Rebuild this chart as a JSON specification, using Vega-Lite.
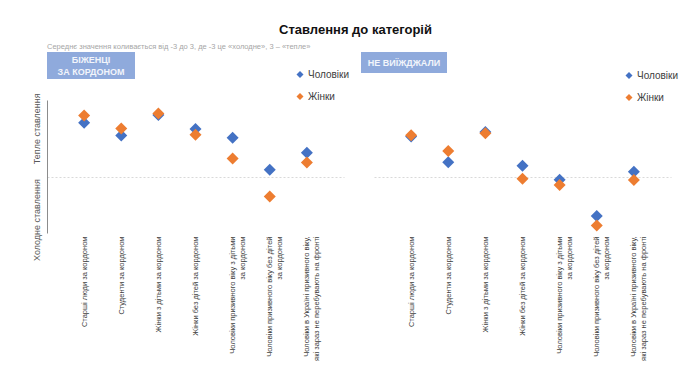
{
  "$schema": "https://vega.github.io/schema/vega-lite/v6.json",
  "padding": {"left": 31, "top": 23, "right": 5, "bottom": 0},
  "background": "white",
  "config": {
    "font": "Liberation Sans Narrow, Liberation Sans, sans-serif",
    "view": {"stroke": null}
  },
  "title": {"text": "Ставлення до категорій", "fontSize": 13, "fontWeight": "bold", "color": "#111111", "anchor": "middle", "offset": 6},
  "datasets": {
    "refugees": [
      {"category": "Старші люди за кордоном", "sex": "Чоловіки", "value": 1.94},
      {"category": "Студенти за кордоном", "sex": "Чоловіки", "value": 1.48},
      {"category": "Жінки з дітьми за кордоном", "sex": "Чоловіки", "value": 2.21},
      {"category": "Жінки без дітей за кордоном", "sex": "Чоловіки", "value": 1.71},
      {"category": "Чоловіки призивного віку з дітьми|за кордоном", "sex": "Чоловіки", "value": 1.40},
      {"category": "Чоловіки призивного віку без дітей|за кордоном", "sex": "Чоловіки", "value": 0.26},
      {"category": "Чоловіки в Україні призивного віку,|які зараз не перебувають на фронті", "sex": "Чоловіки", "value": 0.87},
      {"category": "Старші люди за кордоном", "sex": "Жінки", "value": 2.20},
      {"category": "Студенти за кордоном", "sex": "Жінки", "value": 1.73},
      {"category": "Жінки з дітьми за кордоном", "sex": "Жінки", "value": 2.27},
      {"category": "Жінки без дітей за кордоном", "sex": "Жінки", "value": 1.51},
      {"category": "Чоловіки призивного віку з дітьми|за кордоном", "sex": "Жінки", "value": 0.66},
      {"category": "Чоловіки призивного віку без дітей|за кордоном", "sex": "Жінки", "value": -0.70},
      {"category": "Чоловіки в Україні призивного віку,|які зараз не перебувають на фронті", "sex": "Жінки", "value": 0.52}
    ],
    "stayed": [
      {"category": "Старші люди за кордоном", "sex": "Чоловіки", "value": 1.45},
      {"category": "Студенти за кордоном", "sex": "Чоловіки", "value": 0.53},
      {"category": "Жінки з дітьми за кордоном", "sex": "Чоловіки", "value": 1.61},
      {"category": "Жінки без дітей за кордоном", "sex": "Чоловіки", "value": 0.40},
      {"category": "Чоловіки призивного віку з дітьми|за кордоном", "sex": "Чоловіки", "value": -0.10},
      {"category": "Чоловіки призивного віку без дітей|за кордоном", "sex": "Чоловіки", "value": -1.39},
      {"category": "Чоловіки в Україні призивного віку,|які зараз не перебувають на фронті", "sex": "Чоловіки", "value": 0.19},
      {"category": "Старші люди за кордоном", "sex": "Жінки", "value": 1.49},
      {"category": "Студенти за кордоном", "sex": "Жінки", "value": 0.93},
      {"category": "Жінки з дітьми за кордоном", "sex": "Жінки", "value": 1.56},
      {"category": "Жінки без дітей за кордоном", "sex": "Жінки", "value": -0.06},
      {"category": "Чоловіки призивного віку з дітьми|за кордоном", "sex": "Жінки", "value": -0.29},
      {"category": "Чоловіки призивного віку без дітей|за кордоном", "sex": "Жінки", "value": -1.73},
      {"category": "Чоловіки в Україні призивного віку,|які зараз не перебувають на фронті", "sex": "Жінки", "value": -0.11}
    ]
  },
  "vconcat": [
    {
      "title": {"text": "Середнє значення коливається від -3 до 3, де -3 це «холодне», 3 – «тепле»", "anchor": "start", "fontSize": 7.5, "fontWeight": "normal", "color": "#a6a6a6", "offset": 2},
      "bounds": "flush",
      "spacing": 226,
      "hconcat": [
        {
          "width": 88, "height": 27,
          "view": {"fill": "#8FAADC", "stroke": null},
          "data": {"values": [{"label": "БІЖЕНЦІ|ЗА КОРДОНОМ"}]},
          "mark": {"type": "text", "lineBreak": "|", "fontWeight": "bold", "fontSize": 9, "color": "#F2F5FB", "lineHeight": 11.5, "baseline": "middle", "dy": -5.5},
          "encoding": {"text": {"field": "label", "type": "nominal"}}
        },
        {
          "width": 86, "height": 21,
          "view": {"fill": "#8FAADC", "stroke": null},
          "data": {"values": [{"label": "НЕ ВИЇЖДЖАЛИ"}]},
          "mark": {"type": "text", "fontWeight": "bold", "fontSize": 9, "color": "#F2F5FB"},
          "encoding": {"text": {"field": "label", "type": "nominal"}}
        }
      ]
    },
    {
      "bounds": "flush",
      "spacing": 30,
      "resolve": {"legend": {"color": "independent"}},
      "hconcat": [
        {
          "width": 297, "height": 133,
          "data": {"name": "refugees"},
          "mark": {"type": "point", "shape": "diamond", "filled": true, "size": 144, "opacity": 1},
          "encoding": {
            "x": {"field": "category", "type": "nominal", "sort": null, "scale": {"type": "point", "padding": 1},
              "axis": {"title": null, "labelAngle": -90, "labelFontSize": 7.5, "labelColor": "#404040", "ticks": false, "domain": false, "labelPadding": 3, "labelLimit": 0, "labelExpr": "split(datum.label, '|')", "labelLineHeight": 10}},
            "y": {"field": "value", "type": "quantitative", "scale": {"domain": [-2, 2.75], "nice": false, "zero": false},
              "axis": {"values": [0], "labels": false, "ticks": false, "grid": true, "gridColor": "#d9d9d9", "gridDash": [2, 2], "domain": true, "domainColor": "#8c8c8c",
                "title": "Холодне ставлення\u00a0\u00a0\u00a0\u00a0\u00a0\u00a0Тепле ставлення", "titleFontSize": 9, "titleFontWeight": "normal", "titleColor": "#595959", "titleAngle": 270, "titleAlign": "left", "titleBaseline": "bottom", "titleX": -6, "titleY": 160.5}},
            "color": {"field": "sex", "type": "nominal", "sort": ["Чоловіки", "Жінки"], "scale": {"domain": ["Чоловіки", "Жінки"], "range": ["#4472C4", "#ED7D31"]},
              "legend": {"title": null, "orient": "none", "legendX": 248, "legendY": -30.5, "symbolType": "diamond", "symbolSize": 49, "labelFontSize": 10, "labelColor": "#404040", "rowPadding": 12, "labelOffset": 3, "padding": 0, "symbolStrokeWidth": 0, "symbolOpacity": 1}}
          }
        },
        {
          "width": 297, "height": 133,
          "data": {"name": "stayed"},
          "mark": {"type": "point", "shape": "diamond", "filled": true, "size": 144, "opacity": 1},
          "encoding": {
            "x": {"field": "category", "type": "nominal", "sort": null, "scale": {"type": "point", "padding": 1},
              "axis": {"title": null, "labelAngle": -90, "labelFontSize": 7.5, "labelColor": "#404040", "ticks": false, "domain": false, "labelPadding": 3, "labelLimit": 0, "labelExpr": "split(datum.label, '|')", "labelLineHeight": 10}},
            "y": {"field": "value", "type": "quantitative", "scale": {"domain": [-2, 2.75], "nice": false, "zero": false},
              "axis": {"values": [0], "labels": false, "ticks": false, "grid": true, "gridColor": "#d9d9d9", "gridDash": [2, 2], "domain": false, "title": null}},
            "color": {"field": "sex", "type": "nominal", "sort": ["Чоловіки", "Жінки"], "scale": {"domain": ["Чоловіки", "Жінки"], "range": ["#4472C4", "#ED7D31"]},
              "legend": {"title": null, "orient": "none", "legendX": 250, "legendY": -29.5, "symbolType": "diamond", "symbolSize": 49, "labelFontSize": 10, "labelColor": "#404040", "rowPadding": 12, "labelOffset": 3, "padding": 0, "symbolStrokeWidth": 0, "symbolOpacity": 1}}
          }
        }
      ]
    }
  ],
  "spacing": 48,
  "bounds": "flush"
}
